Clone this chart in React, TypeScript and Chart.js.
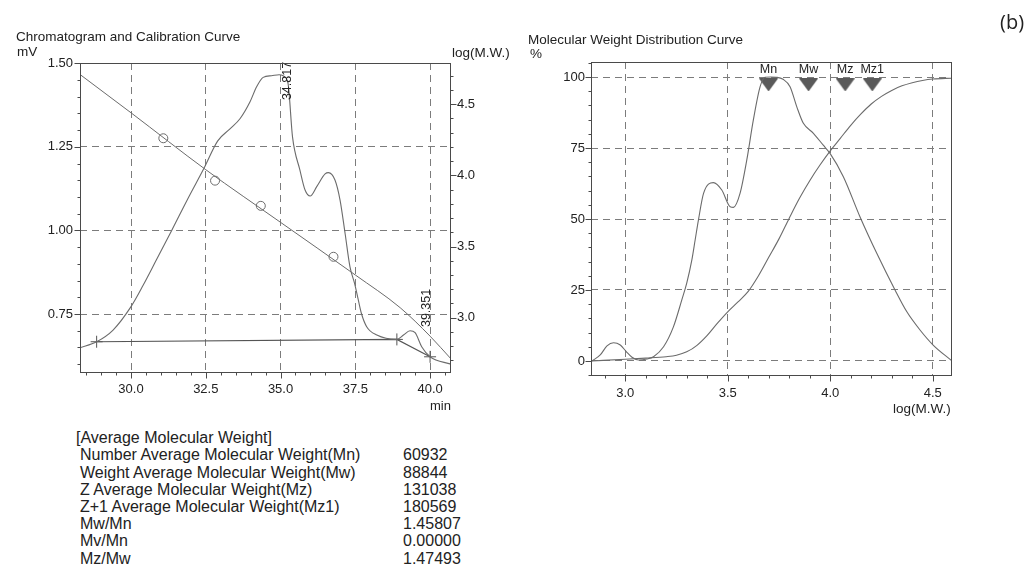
import React, { useEffect, useRef } from "react";
import { Chart, registerables } from "chart.js";

Chart.register(...registerables);

const FONT = '"Liberation Sans", Arial, Helvetica, sans-serif';
const INK = "#222";
const CURVE = "#6b6b6b";
const GRID = "#7c7c7c";
const FRAME = "#4a4a4a";

// ---- Chromatogram: retention time (min) vs detector response (mV)
const chromTime = [
  28.29, 28.85, 29.4, 30.0, 30.4, 30.85, 31.36, 31.9, 32.44, 32.9, 33.3, 33.65, 33.98, 34.2, 34.42,
  34.7, 34.95, 35.1, 35.25, 35.4, 35.65, 35.82, 35.99, 36.21, 36.49, 36.6, 36.82, 36.99, 37.16,
  37.32, 37.48, 37.6, 37.71, 37.88, 38.22, 38.89, 39.11, 39.33, 39.5, 39.72, 40.0, 40.7,
];
const chromMv = [
  0.649, 0.667, 0.702, 0.772, 0.835, 0.912, 1.0, 1.095, 1.186, 1.268, 1.303, 1.335, 1.385, 1.43, 1.458,
  1.463, 1.466, 1.462, 1.44, 1.28, 1.18, 1.121, 1.103, 1.131, 1.169, 1.173, 1.151, 1.091, 0.99,
  0.892, 0.84, 0.792, 0.75, 0.712, 0.687, 0.674, 0.687, 0.7, 0.694, 0.652, 0.622, 0.6,
];

// Integration baseline nodes (start, valley, end)
const baseTime = [28.85, 38.89, 40.0];
const baseMv = [0.667, 0.674, 0.622];

// Calibration curve: retention time (min) vs log(M.W.)
const calibTime = [28.29, 30.0, 32.5, 35.0, 37.5, 39.0, 40.0, 40.7];
const calibLogMw = [4.71, 4.44, 4.04, 3.67, 3.3, 3.07, 2.87, 2.71];

// Calibration standards
const stdTime = [31.08, 32.81, 34.34, 36.77];
const stdLogMw = [4.261, 3.963, 3.786, 3.428];

// Peak retention times
const peakTimes = [34.817, 39.351];

// Axis tick values
const timeTicks = [30.0, 32.5, 35.0, 37.5, 40.0];
const mvTicks = [0.75, 1.0, 1.25, 1.5];
const logTicks = [3.0, 3.5, 4.0, 4.5];

// ---- Molecular weight distribution (differential, %)
const diffLogMw = [
  2.838, 2.878, 2.911, 2.943, 2.976, 3.005, 3.033, 3.065, 3.106, 3.138, 3.187, 3.235, 3.276, 3.3,
  3.325, 3.341, 3.357, 3.382, 3.43, 3.471, 3.512, 3.528, 3.56, 3.593, 3.625, 3.658, 3.682, 3.71,
  3.739, 3.77, 3.804, 3.837, 3.869, 3.918, 3.966, 3.999, 4.064, 4.145, 4.227, 4.316, 4.373, 4.438,
  4.502, 4.592,
];
const diffPct = [
  0, 2.1, 5.3, 6.4, 5.6, 3.3, 1.3, 0.35, 0.7, 1.5, 5, 12, 21.5, 27.4,
  35.6, 42.6, 49.6, 59, 62.8, 60.2, 54.3, 54.1, 59, 70.8, 84.9, 96.6, 99.9, 100,
  99.9, 99.2, 96.6, 89.5, 83.7, 80.2, 76, 73.1, 64.9, 50.8, 37.9, 25, 17.4, 10.9,
  5.6, 0.1,
];

// Cumulative distribution (%)
const cumLogMw = [
  2.838, 3.0, 3.1, 3.2, 3.25, 3.3, 3.35, 3.4, 3.45, 3.5, 3.55, 3.6, 3.65, 3.7, 3.75, 3.8, 3.85,
  3.9, 3.95, 4.0, 4.05, 4.1, 4.15, 4.2, 4.25, 4.3, 4.35, 4.4, 4.45, 4.5, 4.594,
];
const cumPct = [
  0, 0.6, 1.0, 1.5, 2.0, 3.2, 5.5, 9.0, 13.3, 17.3, 20.8, 24.5, 30, 36.5, 43, 50.3, 57.3,
  63.5, 69, 74, 78.5, 83, 87, 90.5, 93.2, 95.3, 96.9, 98, 98.8, 99.3, 99.6,
];

// Average molecular weight markers
const avgNames = ["Mn", "Mw", "Mz", "Mz1"];
const avgLogMw = [3.699, 3.894, 4.073, 4.205];

const mwTicks = [3.0, 3.5, 4.0, 4.5];
const pctTicks = [0, 25, 50, 75, 100];

// Summary table
const statLabels = [
  "Number Average Molecular Weight(Mn)",
  "Weight Average Molecular Weight(Mw)",
  "Z Average Molecular Weight(Mz)",
  "Z+1 Average Molecular Weight(Mz1)",
  "Mw/Mn",
  "Mv/Mn",
  "Mz/Mw",
];
const statValues = ["60932", "88844", "131038", "180569", "1.45807", "0.00000", "1.47493"];

type TickSpec = { id: string; step: number; majors: number[]; side: "left" | "right" | "bottom" };

const zip = (xs: number[], ys: number[]) => xs.map((x, i) => ({ x, y: ys[i] }));

// Plot frame plus major/minor tick marks drawn outside the plot area
function framePlugin(specs: TickSpec[]) {
  return {
    id: "frameTicks",
    afterDraw(chart: any) {
      const { ctx, chartArea: a } = chart;
      const L = Math.round(a.left) + 0.5;
      const R = Math.round(a.right) - 0.5;
      const T = Math.round(a.top) + 0.5;
      const B = Math.round(a.bottom) - 0.5;
      ctx.save();
      ctx.strokeStyle = FRAME;
      ctx.lineWidth = 1;
      ctx.setLineDash([]);
      ctx.strokeRect(L, T, R - L, B - T);
      for (const t of specs) {
        const s = chart.scales[t.id];
        const first = Math.ceil((s.min - 1e-9) / t.step);
        const last = Math.floor((s.max + 1e-9) / t.step);
        ctx.beginPath();
        for (let k = first; k <= last; k++) {
          const v = k * t.step;
          const major = t.majors.some((m) => Math.abs(m - v) < t.step / 10);
          const len = major ? 6 : 3;
          const p = Math.round(s.getPixelForValue(v)) + 0.5;
          if (t.side === "bottom") {
            ctx.moveTo(p, B);
            ctx.lineTo(p, B + len);
          } else if (t.side === "left") {
            ctx.moveTo(L, p);
            ctx.lineTo(L - len, p);
          } else {
            ctx.moveTo(R, p);
            ctx.lineTo(R + len, p);
          }
        }
        ctx.stroke();
      }
      ctx.restore();
    },
  };
}

function linearAxis(
  min: number,
  max: number,
  majors: number[],
  digits: number,
  position: string,
  fit: { width?: number; height?: number },
  padding: number,
  showGrid: boolean
) {
  return {
    type: "linear",
    position,
    min,
    max,
    afterBuildTicks: (s: any) => {
      s.ticks = majors.map((v) => ({ value: v }));
    },
    afterFit: (s: any) => {
      if (fit.width !== undefined) s.width = fit.width;
      if (fit.height !== undefined) s.height = fit.height;
    },
    ticks: {
      autoSkip: false,
      maxRotation: 0,
      padding,
      color: INK,
      font: { family: FONT, size: 13 },
      callback: (v: any) => Number(v).toFixed(digits),
    },
    grid: { display: showGrid, color: GRID, lineWidth: 1, drawTicks: false },
    border: { display: false, dash: [7, 5] },
  };
}

function makeTriangle(): HTMLCanvasElement {
  const c = document.createElement("canvas");
  c.width = 19;
  c.height = 13;
  const g = c.getContext("2d")!;
  g.fillStyle = "#5a5a5a";
  g.beginPath();
  g.moveTo(0, 0);
  g.lineTo(19, 0);
  g.lineTo(9.5, 13);
  g.closePath();
  g.fill();
  return c;
}

const baseOptions = {
  responsive: false,
  animation: false,
  events: [],
  plugins: { legend: { display: false }, tooltip: { enabled: false } },
};

function ChromatogramChart() {
  const ref = useRef<HTMLCanvasElement>(null);
  useEffect(() => {
    if (!ref.current) return;
    const peakLabels = {
      id: "peakLabels",
      afterDatasetsDraw(chart: any) {
        const { ctx } = chart;
        const xs = chart.scales.x;
        const ys = chart.scales.y;
        const anchors = [
          { dx: 12, mv: 1.39 },
          { dx: 16, mv: 0.711 },
        ];
        ctx.save();
        ctx.font = `12.5px ${FONT}`;
        ctx.fillStyle = INK;
        ctx.textAlign = "left";
        ctx.textBaseline = "middle";
        peakTimes.forEach((t, i) => {
          ctx.save();
          ctx.translate(xs.getPixelForValue(t) + anchors[i].dx, ys.getPixelForValue(anchors[i].mv));
          ctx.rotate(-Math.PI / 2);
          ctx.fillText(t.toFixed(3), 0, 0);
          ctx.restore();
        });
        ctx.restore();
      },
    };
    const chart = new Chart(ref.current, {
      type: "scatter",
      data: {
        datasets: [
          {
            data: zip(chromTime, chromMv),
            yAxisID: "y",
            showLine: true,
            borderColor: CURVE,
            borderWidth: 1.1,
            pointRadius: 0,
            cubicInterpolationMode: "monotone",
          },
          {
            data: zip(baseTime, baseMv),
            yAxisID: "y",
            showLine: true,
            borderColor: "#555",
            borderWidth: 1.1,
            pointStyle: "cross",
            pointRadius: 6,
            pointBorderColor: "#555",
            pointBorderWidth: 1,
          },
          {
            data: zip(calibTime, calibLogMw),
            yAxisID: "y2",
            showLine: true,
            borderColor: CURVE,
            borderWidth: 1,
            pointRadius: 0,
            cubicInterpolationMode: "monotone",
          },
          {
            data: zip(stdTime, stdLogMw),
            yAxisID: "y2",
            showLine: false,
            pointStyle: "circle",
            pointRadius: 4.5,
            pointBorderColor: CURVE,
            pointBorderWidth: 1,
            pointBackgroundColor: "rgba(255,255,255,0)",
          },
        ],
      },
      options: {
        ...baseOptions,
        layout: { padding: { top: 63, left: 0, right: 0, bottom: 0 } },
        scales: {
          x: linearAxis(28.294, 40.7, timeTicks, 1, "bottom", { height: 47 }, 9, true),
          y: linearAxis(0.5735, 1.501, mvTicks, 2, "left", { width: 80 }, 7, true),
          y2: linearAxis(2.611, 4.79, logTicks, 1, "right", { width: 69 }, 6, false),
        },
      },
      plugins: [
        peakLabels,
        framePlugin([
          { id: "x", step: 0.5, majors: timeTicks, side: "bottom" },
          { id: "y", step: 0.05, majors: mvTicks, side: "left" },
          { id: "y2", step: 0.1, majors: logTicks, side: "right" },
        ]),
      ],
    } as any);
    return () => chart.destroy();
  }, []);
  return (
    <canvas
      ref={ref}
      width={520}
      height={420}
      style={{ position: "absolute", left: 0, top: 0, width: 520, height: 420 }}
    />
  );
}

function DistributionChart() {
  const ref = useRef<HTMLCanvasElement>(null);
  useEffect(() => {
    if (!ref.current) return;
    const tri = makeTriangle();
    const markerLevel = 97.2;
    const markerNames = {
      id: "markerNames",
      afterDatasetsDraw(chart: any) {
        const { ctx } = chart;
        const xs = chart.scales.x;
        const ys = chart.scales.y;
        ctx.save();
        ctx.font = `12.5px ${FONT}`;
        ctx.fillStyle = INK;
        ctx.textAlign = "center";
        ctx.textBaseline = "middle";
        avgNames.forEach((n, i) => {
          ctx.fillText(n, xs.getPixelForValue(avgLogMw[i]), ys.getPixelForValue(markerLevel) - 15);
        });
        ctx.restore();
      },
    };
    const chart = new Chart(ref.current, {
      type: "scatter",
      data: {
        datasets: [
          {
            data: zip(diffLogMw, diffPct),
            showLine: true,
            borderColor: CURVE,
            borderWidth: 1.1,
            pointRadius: 0,
            cubicInterpolationMode: "monotone",
          },
          {
            data: zip(cumLogMw, cumPct),
            showLine: true,
            borderColor: CURVE,
            borderWidth: 1.1,
            pointRadius: 0,
            cubicInterpolationMode: "monotone",
          },
          {
            data: avgLogMw.map((x) => ({ x, y: markerLevel })),
            showLine: false,
            pointStyle: tri,
            pointRadius: 10,
          },
        ],
      },
      options: {
        ...baseOptions,
        layout: { padding: { top: 62, left: 0, right: 83, bottom: 0 } },
        scales: {
          x: linearAxis(2.833, 4.594, mwTicks, 1, "bottom", { height: 44 }, 10, true),
          y: linearAxis(-5.3, 105.3, pctTicks, 0, "left", { width: 71 }, 6, true),
        },
      },
      plugins: [
        markerNames,
        framePlugin([
          { id: "x", step: 0.1, majors: mwTicks, side: "bottom" },
          { id: "y", step: 5, majors: pctTicks, side: "left" },
        ]),
      ],
    } as any);
    return () => chart.destroy();
  }, []);
  return (
    <canvas
      ref={ref}
      width={515}
      height={420}
      style={{ position: "absolute", left: 520, top: 0, width: 515, height: 420 }}
    />
  );
}

function Label(props: { x: number; y: number; size?: number; text: string; family?: string }) {
  const size = props.size ?? 13.5;
  return (
    <div
      style={{
        position: "absolute",
        left: props.x,
        top: props.y - size * 0.49,
        fontSize: size,
        lineHeight: 1,
        fontFamily: props.family ?? FONT,
        color: INK,
        whiteSpace: "nowrap",
      }}
    >
      {props.text}
    </div>
  );
}

export default function App() {
  const rowH = 17.2;
  return (
    <div
      style={{
        position: "absolute",
        left: 0,
        top: 0,
        width: 1035,
        height: 569,
        background: "#fff",
        overflow: "hidden",
      }}
    >
      <ChromatogramChart />
      <DistributionChart />
      <Label x={16} y={36.7} text="Chromatogram and Calibration Curve" />
      <Label x={17} y={51.7} text="mV" />
      <Label x={452} y={53} text="log(M.W.)" />
      <Label x={430} y={405} size={13} text="min" />
      <Label x={528} y={39.3} text="Molecular Weight Distribution Curve" />
      <Label x={530} y={53.3} text="%" />
      <Label x={893} y={408.3} text="log(M.W.)" />
      <Label x={1000} y={22} size={20} family='"Open Sans", "Liberation Sans", sans-serif' text="(b)" />
      <Label x={76} y={438} size={16} text="[Average Molecular Weight]" />
      {statLabels.map((s, i) => (
        <Label key={"l" + i} x={80} y={438 + rowH * (i + 1)} size={16} text={s} />
      ))}
      {statValues.map((s, i) => (
        <Label key={"v" + i} x={403} y={438 + rowH * (i + 1)} size={16} text={s} />
      ))}
    </div>
  );
}
